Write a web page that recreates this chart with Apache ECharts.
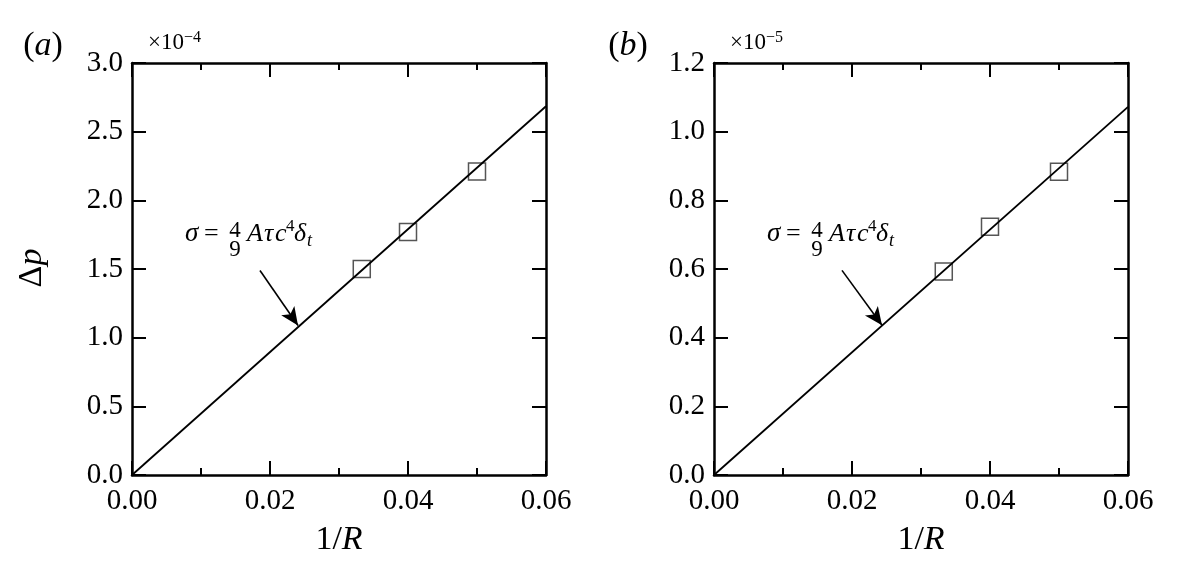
<!DOCTYPE html>
<html>
<head>
<meta charset="utf-8">
<script src="https://cdn.jsdelivr.net/npm/echarts@6/dist/echarts.min.js"></script>
<style>
html,body{margin:0;padding:0;background:#fff;}
#c{width:1188px;height:562px;}
</style>
</head>
<body>
<div id="c"></div>
<script>
// ---- data ----
const invR = [0.0333, 0.04, 0.05];
const dpA = [1.50, 1.77, 2.21];      // x10^-4
const dpB = [0.593, 0.723, 0.883];   // x10^-5
const fitX = [0, 0.06];
const fitA = [0, 2.685];
const fitB = [0, 1.072];
const xTickFmt = 2;
const arrowA = [[0.01855, 1.489], [0.02406, 1.089]];
const arrowB = [[0.01855, 0.596], [0.02435, 0.436]];
const panelLabels = ['a', 'b'];
const scaleExps = ['−4', '−5'];

const FONT = 'Liberation Serif';
const chart = echarts.init(document.getElementById('c'), null, {renderer: 'canvas'});

const grids = [
  {left: 132, top: 63, width: 414, height: 413},
  {left: 714, top: 63, width: 414, height: 413}
];
const yCfg = [{max: 3.0, interval: 0.5}, {max: 1.2, interval: 0.2}];

function xAxis(g, pos) {
  return {
    type: 'value', gridIndex: g, position: pos, min: 0, max: 0.06, interval: 0.02,
    axisLine: {show: true, onZero: false, lineStyle: {color: '#000', width: 2.5}},
    axisTick: {show: true, inside: true, length: 14, lineStyle: {color: '#000', width: 2}},
    minorTick: {show: true, splitNumber: 2, length: 7, lineStyle: {color: '#000', width: 2}},
    splitLine: {show: false}, minorSplitLine: {show: false},
    axisLabel: {show: pos === 'bottom', margin: 12, color: '#000', fontFamily: FONT, fontSize: 29,
      formatter: v => v.toFixed(xTickFmt)},
    name: pos === 'bottom' ? '{n|1/}{r|R}' : '',
    nameLocation: 'middle', nameGap: 48,
    nameTextStyle: {rich: {n: {fontFamily: FONT, fontSize: 34, color: '#000'},
                           r: {fontFamily: FONT, fontSize: 34, fontStyle: 'italic', color: '#000'}}}
  };
}
function yAxis(g, pos) {
  return {
    type: 'value', gridIndex: g, position: pos, min: 0, max: yCfg[g].max, interval: yCfg[g].interval,
    axisLine: {show: true, onZero: false, lineStyle: {color: '#000', width: 2.5}},
    axisTick: {show: true, inside: true, length: 14, lineStyle: {color: '#000', width: 2}},
    splitLine: {show: false},
    axisLabel: {show: pos === 'left', margin: 9, color: '#000', fontFamily: FONT, fontSize: 29,
      formatter: v => v.toFixed(1)}
  };
}

function arrowLine(a) {
  return {
    silent: true, animation: false,
    symbol: ['none', 'arrow'], symbolSize: [12, 18],
    label: {show: false},
    lineStyle: {color: '#000', width: 1.6, type: 'solid'},
    data: [[{coord: a[0]}, {coord: a[1]}]]
  };
}

const series = [];
[[fitA, dpA, arrowA], [fitB, dpB, arrowB]].forEach((d, g) => {
  series.push({
    type: 'line', xAxisIndex: g * 2, yAxisIndex: g * 2,
    data: fitX.map((x, i) => [x, d[0][i]]),
    showSymbol: false, animation: false, silent: true,
    lineStyle: {color: '#000', width: 1.8},
    markLine: arrowLine(d[2])
  });
  series.push({
    type: 'scatter', xAxisIndex: g * 2, yAxisIndex: g * 2,
    data: invR.map((x, i) => [x, d[1][i]]),
    symbol: 'rect', symbolSize: 17, animation: false, silent: true,
    itemStyle: {color: 'rgba(0,0,0,0)', borderColor: '#2a2a2a', borderWidth: 1.5}
  });
});

// formula annotation
function t(x, y, text, size, italic, align) {
  return {type: 'text', x: x, y: y, silent: true, style: {
    text: text, fill: '#000', fontFamily: FONT, fontSize: size,
    fontStyle: italic ? 'italic' : 'normal', align: align || 'left', verticalAlign: 'middle'}};
}
function formula(x0) {
  const y = 234;
  return [
    t(x0, y, 'σ', 27, true),
    t(x0 + 19, y, '=', 26, false),
    t(x0 + 50, y - 3, '4', 23, false, 'center'),
    t(x0 + 50, y + 16, '9', 23, false, 'center'),
    t(x0 + 62, y, 'A', 26, true),
    t(x0 + 79, y, 'τ', 26, true),
    t(x0 + 90, y, 'c', 26, true),
    t(x0 + 101, y - 7, '4', 17, false),
    t(x0 + 109, y, 'δ', 26, true),
    t(x0 + 122, y + 7, 't', 18, true)
  ];
}

const richPanel = {p: {fontFamily: FONT, fontSize: 34, color: '#000'}, i: {fontFamily: FONT, fontSize: 34, fontStyle: 'italic', color: '#000'}};
const richExp = {m: {fontFamily: FONT, fontSize: 23, color: '#000'}, e: {fontFamily: FONT, fontSize: 16, color: '#000', verticalAlign: 'top', padding: [0, 0, 10, 0]}};

const graphic = [].concat(
  formula(185), formula(767),
  [
    {type: 'text', x: 43, y: 46, style: {text: '{p|(}{i|' + panelLabels[0] + '}{p|)}', align: 'center', verticalAlign: 'middle', rich: richPanel}},
    {type: 'text', x: 628, y: 46, style: {text: '{p|(}{i|' + panelLabels[1] + '}{p|)}', align: 'center', verticalAlign: 'middle', rich: richPanel}},
    {type: 'text', x: 148, y: 43, style: {text: '{m|×10}{e|' + scaleExps[0] + '}', verticalAlign: 'middle', rich: richExp}},
    {type: 'text', x: 730, y: 43, style: {text: '{m|×10}{e|' + scaleExps[1] + '}', verticalAlign: 'middle', rich: richExp}},
    {type: 'text', x: 32, y: 268, rotation: Math.PI / 2, style: {text: '{d|Δ}{p|p}', align: 'center', verticalAlign: 'middle',
      rich: {d: {fontFamily: FONT, fontSize: 34, color: '#000'}, p: {fontFamily: FONT, fontSize: 34, fontStyle: 'italic', color: '#000'}}}}
  ]
);

chart.setOption({
  animation: false,
  backgroundColor: '#fff',
  grid: grids,
  xAxis: [xAxis(0, 'bottom'), xAxis(0, 'top'), xAxis(1, 'bottom'), xAxis(1, 'top')],
  yAxis: [yAxis(0, 'left'), yAxis(0, 'right'), yAxis(1, 'left'), yAxis(1, 'right')],
  series: series,
  graphic: graphic
});
</script>
</body>
</html>
